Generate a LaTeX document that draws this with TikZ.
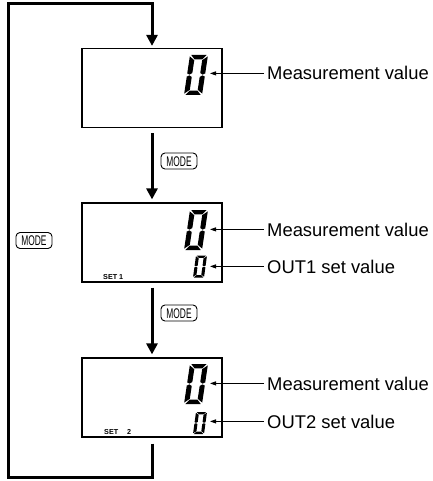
\documentclass[tikz,border=0pt]{standalone}
\usepackage{fontspec}
\setmainfont{Liberation Sans}
\newfontfamily\condfont[FakeStretch=0.6]{Liberation Sans}
\usetikzlibrary{arrows.meta}
% seven-segment "0": #1 left x, #2 bottom y (px), #3 upright width, #4 half height, #5 slant per unit
\newcommand{\drawzero}[5]{%
  \begin{scope}[shift={(#1pt,-#2pt)}, x={(#3pt,0pt)}, y={(#5pt,#4pt)}]
    \fill[segfill] (0.07,2) -- (0.93,2) -- (0.71,1.78) -- (0.29,1.78) -- cycle;
    \fill[segfill] (1,1.93) -- (1,1.08) -- (0.86,1.02) -- (0.72,1.1) -- (0.72,1.74) -- cycle;
    \fill[segfill] (1,0.07) -- (1,0.92) -- (0.86,0.98) -- (0.72,0.9) -- (0.72,0.26) -- cycle;
    \fill[segfill] (0,1.93) -- (0,1.08) -- (0.14,1.02) -- (0.28,1.1) -- (0.28,1.74) -- cycle;
    \fill[segfill] (0,0.07) -- (0,0.92) -- (0.14,0.98) -- (0.28,0.9) -- (0.28,0.26) -- cycle;
    \fill[segfill] (0.07,0) -- (0.93,0) -- (0.71,0.22) -- (0.29,0.22) -- cycle;
  \end{scope}}
\begin{document}
\begin{tikzpicture}[x=1pt,y=-1pt,
  segfill/.style={fill=black},
  flow/.style={line width=3pt, line join=miter, -{Triangle[length=11pt,width=11pt]}},
  lcd/.style={draw, line width=1.2pt, minimum width=140pt, minimum height=79pt, inner sep=0pt},
  modebtn/.style={draw, line width=0.9pt, rounded corners=4pt, minimum width=36pt, minimum height=16pt, inner sep=0pt, text height=10pt, text depth=0pt, font=\condfont\fontsize{14}{14}\selectfont},
  lbl/.style={anchor=west, inner xsep=3pt, inner ysep=0pt, text height=13.2pt, text depth=0pt, font=\fontsize{18.4}{20}\selectfont},
  lab/.style={line width=0.8pt, -{Triangle[length=6pt,width=4pt]}},
  setlbl/.style={anchor=west, inner sep=0pt, font=\bfseries\fontsize{7.2}{8}\selectfont}]
\useasboundingbox (0,0) rectangle (432,481);

% LCD boxes
\node[lcd] (box1) at (152,88) {};
\node[lcd] (box2) at (152,242.5) {};
\node[lcd] (box3) at (152,397.5) {};

% digits
\drawzero{184}{95}{18}{20}{3}
\drawzero{184}{250}{18}{20}{3}
\drawzero{193}{277.5}{11}{11}{1.5}
\drawzero{184}{404}{18}{20}{3}
\drawzero{193}{434}{11}{11}{1.5}

% SET labels
\node[setlbl] (s1) at (103,277.5) {SET 1};
\node[setlbl] (s2) at (104,432.5) {SET\hspace{9pt}2};

% MODE buttons
\node[modebtn] (mode1) at (179,161) {MODE};
\node[modebtn] (mode2) at (179,313) {MODE};
\node[modebtn] (mode3) at (34,240.5) {MODE};

% flow arrows
\draw[flow, shorten <=5pt, shorten >=3pt] (box1.south) -- (box2.north);
\draw[flow, shorten <=5pt, shorten >=3pt] (box2.south) -- (box3.north);
\coordinate (cbl) at (8.5,477);
\coordinate (ctl) at (8.5,4);
\draw[flow, shorten <=6pt, shorten >=2pt] (box3.south) -- (box3.south |- cbl) -- (cbl) -- (ctl) -- (ctl -| box1.north) -- (box1.north);

% labels
\node[lbl] (t1) at (264,73.4) {Measurement value};
\node[lbl] (t2) at (264,229.4) {Measurement value};
\node[lbl] (t3) at (264,266.4) {OUT1 set value};
\node[lbl] (t4) at (264,383.4) {Measurement value};
\node[lbl] (t5) at (264,421.4) {OUT2 set value};
\coordinate (d1) at (210,73.4);
\coordinate (d2) at (210,229.4);
\coordinate (d3) at (210,266.4);
\coordinate (d4) at (210,383.4);
\coordinate (d5) at (210,421.4);
\draw[lab] (t1.west) -- (d1);
\draw[lab] (t2.west) -- (d2);
\draw[lab] (t3.west) -- (d3);
\draw[lab] (t4.west) -- (d4);
\draw[lab] (t5.west) -- (d5);
\end{tikzpicture}
\end{document}
